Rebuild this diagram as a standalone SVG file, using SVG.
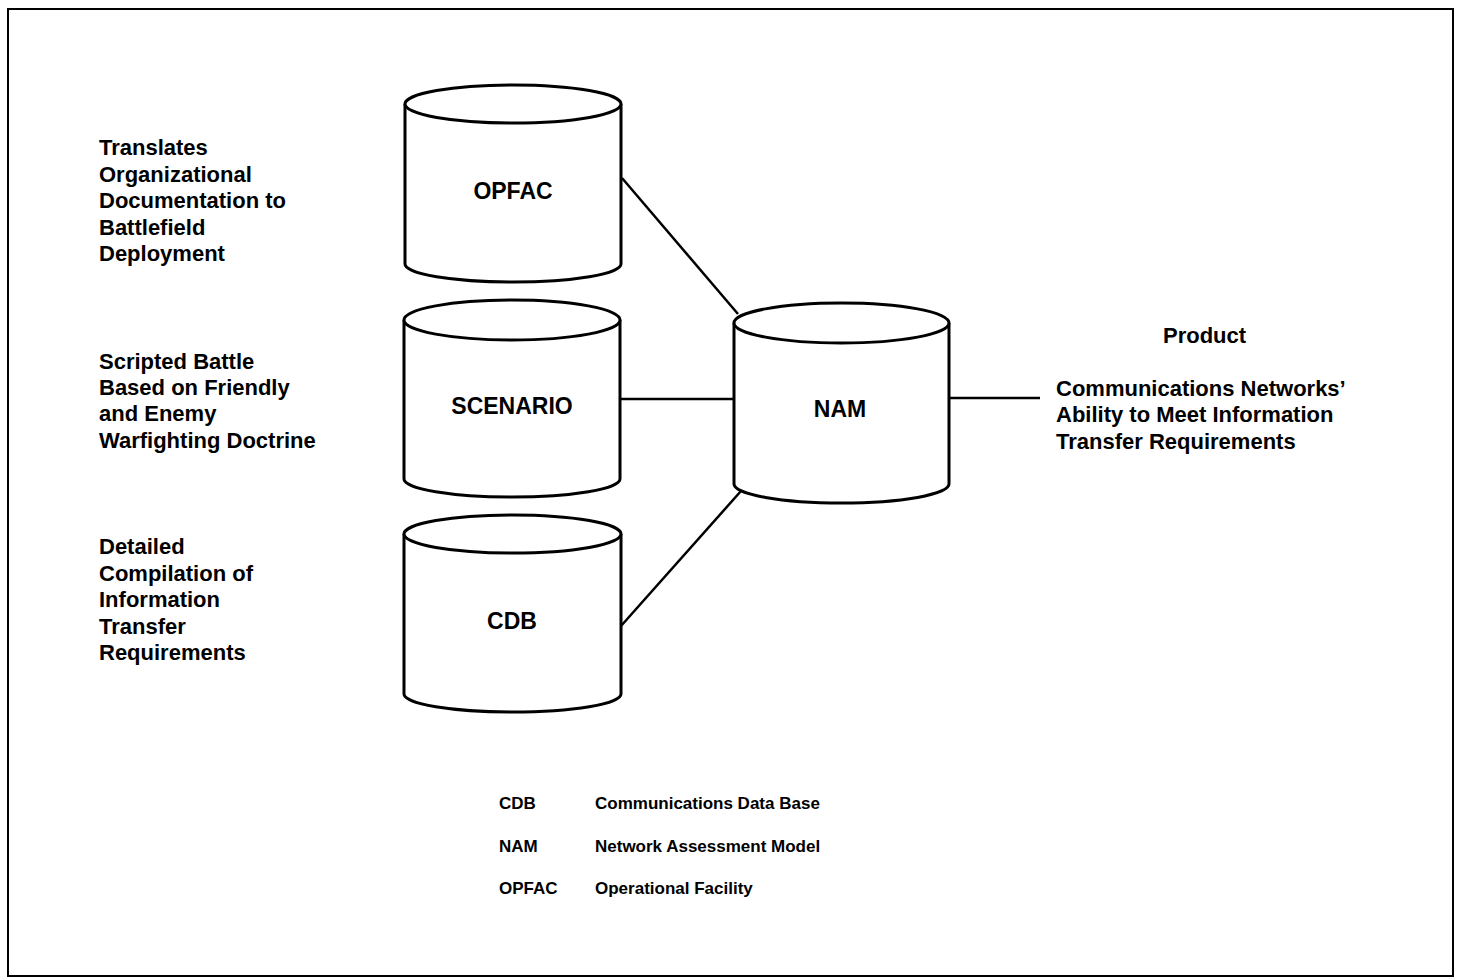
<svg xmlns="http://www.w3.org/2000/svg" width="1460" height="978" viewBox="0 0 1460 978">
<style>
.cyl{fill:#fff;stroke:#000;stroke-width:3}
.con{stroke:#000;stroke-width:2.5;fill:none}
text{font-family:"Liberation Sans",Arial,Helvetica,sans-serif;font-weight:bold;fill:#000}
.lbl{font-size:23px;text-anchor:middle}
.desc{font-size:22px}
.leg{font-size:17px}
</style>
<rect x="0" y="0" width="1460" height="978" fill="#fff"/>
<rect x="8" y="9" width="1445" height="967" fill="none" stroke="#000" stroke-width="2"/>
<g id="connectors">
<line class="con" x1="622" y1="178" x2="738" y2="314"/>
<line class="con" x1="620" y1="399" x2="734" y2="399"/>
<line class="con" x1="621" y1="626" x2="741" y2="491"/>
<line class="con" x1="949" y1="398" x2="1040" y2="398"/>
</g>
<g id="opfac">
<path class="cyl" d="M405,104 V264 A108,18 0 0 0 621,264 V104"/>
<ellipse class="cyl" cx="513" cy="104" rx="108" ry="19"/>
<text class="lbl" x="513" y="199">OPFAC</text>
</g>
<g id="scenario">
<path class="cyl" d="M404,320 V479 A108,18 0 0 0 620,479 V320"/>
<ellipse class="cyl" cx="512" cy="320" rx="108" ry="20"/>
<text class="lbl" x="512" y="414">SCENARIO</text>
</g>
<g id="cdb">
<path class="cyl" d="M404,534 V694 A108.5,18 0 0 0 621,694 V534"/>
<ellipse class="cyl" cx="512.5" cy="534" rx="108.5" ry="19"/>
<text class="lbl" x="512" y="629">CDB</text>
</g>
<g id="nam">
<path class="cyl" d="M734,323 V484 A107.5,19 0 0 0 949,484 V323"/>
<ellipse class="cyl" cx="841.5" cy="323" rx="107.5" ry="20"/>
<text class="lbl" x="840" y="417">NAM</text>
</g>
<g id="desc-opfac">
<text class="desc" x="99" y="155">Translates</text>
<text class="desc" x="99" y="182">Organizational</text>
<text class="desc" x="99" y="208">Documentation to</text>
<text class="desc" x="99" y="235">Battlefield</text>
<text class="desc" x="99" y="261">Deployment</text>
</g>
<g id="desc-scenario">
<text class="desc" x="99" y="369">Scripted Battle</text>
<text class="desc" x="99" y="395">Based on Friendly</text>
<text class="desc" x="99" y="421">and Enemy</text>
<text class="desc" x="99" y="448">Warfighting Doctrine</text>
</g>
<g id="desc-cdb">
<text class="desc" x="99" y="554">Detailed</text>
<text class="desc" x="99" y="581">Compilation of</text>
<text class="desc" x="99" y="607">Information</text>
<text class="desc" x="99" y="634">Transfer</text>
<text class="desc" x="99" y="660">Requirements</text>
</g>
<g id="product">
<text class="desc" x="1163" y="343">Product</text>
<text class="desc" x="1056" y="396">Communications Networks’</text>
<text class="desc" x="1056" y="422">Ability to Meet Information</text>
<text class="desc" x="1056" y="449">Transfer Requirements</text>
</g>
<g id="legend">
<text class="leg" x="499" y="809">CDB</text>
<text class="leg" x="595" y="809">Communications Data Base</text>
<text class="leg" x="499" y="852">NAM</text>
<text class="leg" x="595" y="852">Network Assessment Model</text>
<text class="leg" x="499" y="894">OPFAC</text>
<text class="leg" x="595" y="894">Operational Facility</text>
</g>
</svg>
